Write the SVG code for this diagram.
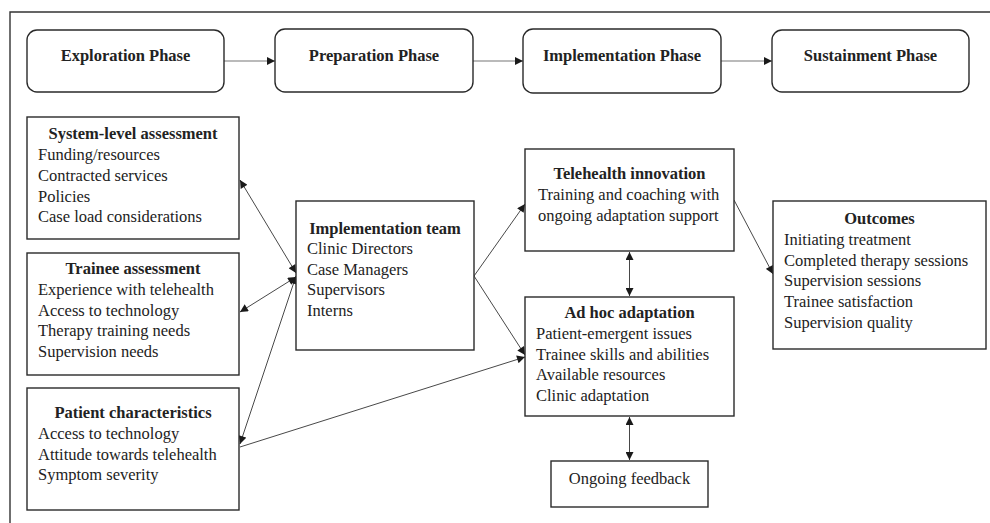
<svg xmlns="http://www.w3.org/2000/svg" width="990" height="523" viewBox="0 0 990 523">
<style>
text{font-family:"Liberation Serif","Times New Roman",serif;font-size:16.5px;fill:#222}
.b{font-weight:bold}
.c{text-anchor:middle}
.box{fill:#fff;stroke:#2a2a2a;stroke-width:1.4}
.ph{fill:#fff;stroke:#2a2a2a;stroke-width:1.4}
.ln{fill:none;stroke:#333;stroke-width:0.9}
.pl{fill:none;stroke:#777;stroke-width:1.1}
</style>
<defs>
<marker id="ah" viewBox="0 0 10 10" refX="10" refY="5" markerWidth="9" markerHeight="8" markerUnits="userSpaceOnUse" orient="auto-start-reverse">
<path d="M0,0 L10,5 L0,10 z" fill="#1a1a1a"/>
</marker>
</defs>
<rect width="990" height="523" fill="#fff"/>
<path d="M10,523 V12 H990" fill="none" stroke="#333" stroke-width="1.4"/>

<g id="connectors">
<line class="pl" x1="224" y1="61" x2="275" y2="61" marker-end="url(#ah)"/>
<line class="pl" x1="473" y1="61" x2="523" y2="61" marker-end="url(#ah)"/>
<line class="pl" x1="721" y1="61" x2="772" y2="61" marker-end="url(#ah)"/>
<line class="ln" x1="240" y1="180" x2="296" y2="273" marker-start="url(#ah)" marker-end="url(#ah)"/>
<line class="ln" x1="240" y1="312" x2="296" y2="277" marker-start="url(#ah)" marker-end="url(#ah)"/>
<line class="ln" x1="240" y1="444" x2="296" y2="276" marker-start="url(#ah)" marker-end="url(#ah)"/>
<line class="ln" x1="240" y1="447" x2="525" y2="357" marker-end="url(#ah)"/>
<line class="ln" x1="474" y1="276" x2="525" y2="204" marker-end="url(#ah)"/>
<line class="ln" x1="474" y1="276" x2="525" y2="355" marker-end="url(#ah)"/>
<line class="ln" x1="734" y1="200" x2="773" y2="274" marker-end="url(#ah)"/>
<line class="ln" x1="629.5" y1="252" x2="629.5" y2="296" marker-start="url(#ah)" marker-end="url(#ah)"/>
<line class="ln" x1="629.5" y1="417" x2="629.5" y2="460" marker-start="url(#ah)" marker-end="url(#ah)"/>
</g>

<g id="exploration">
<rect class="ph" x="27" y="30" width="197" height="62" rx="10"/>
<text class="b c" x="125.5" y="61">Exploration Phase</text>
</g>
<g id="preparation">
<rect class="ph" x="275" y="29" width="198" height="63" rx="10"/>
<text class="b c" x="374" y="61">Preparation Phase</text>
</g>
<g id="implementation">
<rect class="ph" x="523" y="29" width="198" height="64" rx="10"/>
<text class="b c" x="622" y="61">Implementation Phase</text>
</g>
<g id="sustainment">
<rect class="ph" x="772" y="30" width="197" height="62" rx="10"/>
<text class="b c" x="870.5" y="61">Sustainment Phase</text>
</g>

<g id="system-level">
<rect class="box" x="27" y="117" width="212" height="122"/>
<text class="b c" x="133" y="139">System-level assessment</text>
<text x="38" y="160">Funding/resources</text>
<text x="38" y="181">Contracted services</text>
<text x="38" y="202">Policies</text>
<text x="38" y="222">Case load considerations</text>
</g>
<g id="trainee">
<rect class="box" x="27" y="253" width="212" height="122"/>
<text class="b c" x="133" y="274">Trainee assessment</text>
<text x="38" y="295">Experience with telehealth</text>
<text x="38" y="316">Access to technology</text>
<text x="38" y="336">Therapy training needs</text>
<text x="38" y="357">Supervision needs</text>
</g>
<g id="patient">
<rect class="box" x="27" y="388" width="212" height="122"/>
<text class="b c" x="133" y="418">Patient characteristics</text>
<text x="38" y="439">Access to technology</text>
<text x="38" y="460">Attitude towards telehealth</text>
<text x="38" y="480">Symptom severity</text>
</g>
<g id="team">
<rect class="box" x="296" y="201" width="178" height="149"/>
<text class="b c" x="385" y="234">Implementation team</text>
<text x="307" y="254">Clinic Directors</text>
<text x="307" y="275">Case Managers</text>
<text x="307" y="295">Supervisors</text>
<text x="307" y="316">Interns</text>
</g>
<g id="telehealth">
<rect class="box" x="525" y="149" width="209" height="102"/>
<text class="b c" x="629.5" y="179">Telehealth innovation</text>
<text x="538" y="200">Training and coaching with</text>
<text x="538" y="221">ongoing adaptation support</text>
</g>
<g id="adhoc">
<rect class="box" x="525" y="297" width="209" height="119"/>
<text class="b c" x="629.5" y="318">Ad hoc adaptation</text>
<text x="536" y="339">Patient-emergent issues</text>
<text x="536" y="360">Trainee skills and abilities</text>
<text x="536" y="380">Available resources</text>
<text x="536" y="401">Clinic adaptation</text>
</g>
<g id="outcomes">
<rect class="box" x="773" y="201" width="213" height="148"/>
<text class="b c" x="879.5" y="224">Outcomes</text>
<text x="784" y="245">Initiating treatment</text>
<text x="784" y="266">Completed therapy sessions</text>
<text x="784" y="286">Supervision sessions</text>
<text x="784" y="307">Trainee satisfaction</text>
<text x="784" y="328">Supervision quality</text>
</g>
<g id="feedback">
<rect class="box" x="551" y="461" width="157" height="46"/>
<text class="c" x="629.5" y="484">Ongoing feedback</text>
</g>
</svg>
